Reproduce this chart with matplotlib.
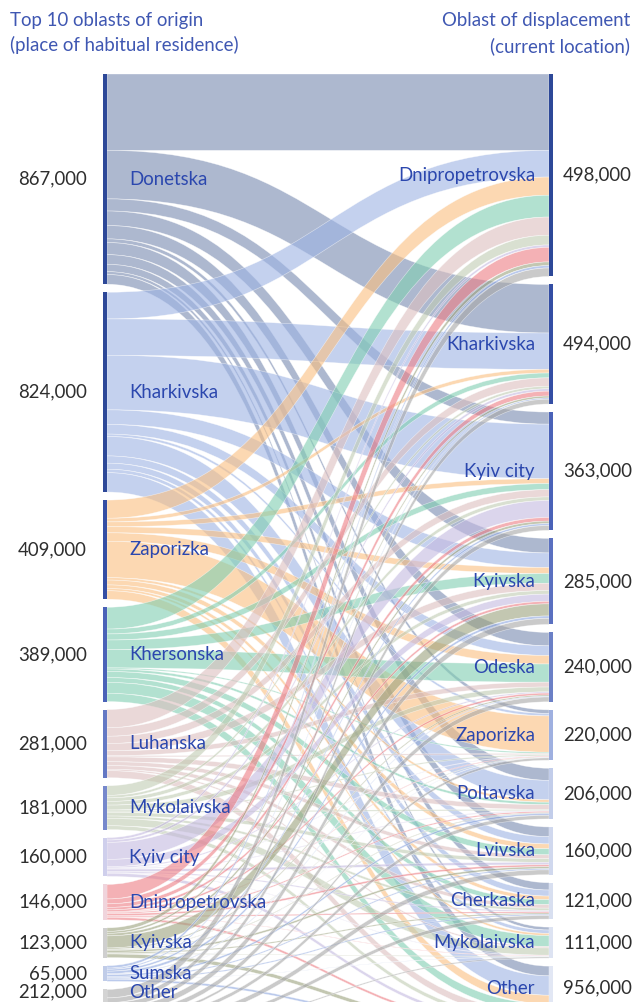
import matplotlib
matplotlib.use("Agg")
import matplotlib.pyplot as plt
from matplotlib.path import Path
from matplotlib.patches import PathPatch, Rectangle

# ---------------- data ----------------
sources = ["Donetska", "Kharkivska", "Zaporizka", "Khersonska", "Luhanska",
           "Mykolaivska", "Kyiv city", "Dnipropetrovska", "Kyivska", "Sumska", "Other"]
source_values = [867, 824, 409, 389, 281, 181, 160, 146, 123, 65, 212]  # thousands
source_labels = ["867,000", "824,000", "409,000", "389,000", "281,000", "181,000",
                 "160,000", "146,000", "123,000", "65,000", "212,000"]

targets = ["Dnipropetrovska", "Kharkivska", "Kyiv city", "Kyivska", "Odeska", "Zaporizka",
           "Poltavska", "Lvivska", "Cherkaska", "Mykolaivska", "Other"]
target_labels = ["498,000", "494,000", "363,000", "285,000", "240,000", "220,000",
                 "206,000", "160,000", "121,000", "111,000", "956,000"]

# estimated flows (thousands): rows = origin, columns = displacement oblast
flow_donetska    = [315, 200, 50, 60, 55, 15, 50, 40, 30, 12, 40]
flow_kharkivska  = [110, 150, 225, 60, 40, 10, 80, 30, 25, 14, 80]
flow_zaporizka   = [75, 15, 20, 25, 35, 150, 10, 20, 15, 9, 35]
flow_khersonska  = [90, 20, 25, 40, 75, 5, 10, 25, 20, 45, 34]
flow_luhanska    = [75, 35, 30, 30, 20, 5, 20, 16, 15, 6, 29]
flow_mykolaivska = [40, 10, 15, 15, 20, 5, 5, 15, 10, 30, 16]
flow_kyivcity    = [10, 10, 70, 30, 5, 2, 3, 10, 5, 2, 13]
flow_dnipro      = [60, 20, 15, 10, 8, 3, 5, 8, 5, 2, 10]
flow_kyivska     = [15, 8, 10, 50, 5, 2, 3, 8, 5, 2, 15]
flow_sumska      = [10, 5, 8, 10, 3, 1, 8, 5, 5, 1, 9]
flow_other       = [35, 20, 20, 25, 20, 10, 15, 20, 15, 5, 27]
flows = [flow_donetska, flow_kharkivska, flow_zaporizka, flow_khersonska, flow_luhanska,
         flow_mykolaivska, flow_kyivcity, flow_dnipro, flow_kyivska, flow_sumska, flow_other]

# ---------------- style ----------------
flow_colors = ["#7789af", "#9db3e4", "#fabf80", "#80ceb1", "#dcbfbf", "#c1ccb3",
               "#c4b9e0", "#ed7e85", "#9ba27e", "#8fa8e0", "#a8a8a8"]
left_bar_colors = ["#2d4898", "#2d4898", "#344ea4", "#4a62b8", "#6478c4", "#7688cc",
                   "#cfcfec", "#f0d4dc", "#cfcfcf", "#c0cce8", "#d4d4d4"]
right_bar_colors = ["#2d4898", "#344ea4", "#4a62b8", "#5a70c0", "#6b80c6", "#9fb0e0",
                    "#c2cdea", "#d0d8ee", "#d8dff0", "#dde3f2", "#e2e7f4"]
node_text = "#2b47ae"
value_text = "#2e2e2e"
FONT = ["Lato", "DejaVu Sans"]
FS = 13.4
FW = "normal"

W, H = 635, 1002
fig = plt.figure(figsize=(W / 100, H / 100), dpi=100)
ax = fig.add_axes([0, 0, 1, 1])
ax.set_xlim(0, W)
ax.set_ylim(H, 0)
ax.axis("off")

top = 74
scale = 0.2425
gap_left = 8
gap_right = 8
xl_bar, xr_bar = 103, 549
bar_w = 4
x0 = xl_bar + bar_w
x1 = xr_bar

n_s, n_t = len(sources), len(targets)
target_totals = [sum(flows[i][j] for i in range(n_s)) for j in range(n_t)]

s_top = []
y = top
for v in source_values:
    s_top.append(y)
    y += v * scale + gap_left
t_top = []
y = top
for v in target_totals:
    t_top.append(y)
    y += v * scale + gap_right

# target stacking by source order
t_off = list(t_top)
tpos = {}
for j in range(n_t):
    for i in range(n_s):
        tpos[(i, j)] = t_off[j]
        t_off[j] += flows[i][j] * scale

s_off = list(s_top)
xm = (x0 + x1) / 2
for i in range(n_s):
    for j in range(n_t):
        h = flows[i][j] * scale
        ys = s_off[i]
        s_off[i] += h
        yt = tpos[(i, j)]
        verts = [(x0, ys), (xm, ys), (xm, yt), (x1, yt),
                 (x1, yt + h),
                 (xm, yt + h), (xm, ys + h), (x0, ys + h),
                 (x0, ys)]
        codes = [Path.MOVETO, Path.CURVE4, Path.CURVE4, Path.CURVE4,
                 Path.LINETO,
                 Path.CURVE4, Path.CURVE4, Path.CURVE4,
                 Path.CLOSEPOLY]
        ax.add_patch(PathPatch(Path(verts, codes), facecolor=flow_colors[i],
                               edgecolor=(1, 1, 1, 0.25), linewidth=0.4,
                               alpha=0.6, zorder=2))

# node bars
for i, v in enumerate(source_values):
    ax.add_patch(Rectangle((xl_bar, s_top[i]), bar_w, v * scale,
                           facecolor=left_bar_colors[i], edgecolor="none", zorder=3))
for j, v in enumerate(target_totals):
    ax.add_patch(Rectangle((xr_bar, t_top[j]), bar_w, v * scale,
                           facecolor=right_bar_colors[j], edgecolor="none", zorder=3))

# labels
for i, name in enumerate(sources):
    yc = min(s_top[i] + source_values[i] * scale / 2, 992)
    ax.text(129, yc, name, ha="left", va="center", fontsize=FS, fontweight=FW,
            color=node_text, family=FONT, zorder=4)
    ax.text(87, yc, source_labels[i], ha="right", va="center", fontsize=FS, fontweight=FW,
            color=value_text, family=FONT, zorder=4)
for j, name in enumerate(targets):
    yc = min(t_top[j] + target_totals[j] * scale / 2, 988)
    ax.text(535, yc, name, ha="right", va="center", fontsize=FS, fontweight=FW,
            color=node_text, family=FONT, zorder=4)
    ax.text(563, yc, target_labels[j], ha="left", va="center", fontsize=FS, fontweight=FW,
            color=value_text, family=FONT, zorder=4)

# headers
title_col = "#3f57b2"
TS = 13.4
ax.text(10, 20, "Top 10 oblasts of origin", ha="left", va="center",
        fontsize=TS, fontweight=FW, color=title_col, family=FONT)
ax.text(10, 45, "(place of habitual residence)", ha="left", va="center",
        fontsize=TS, fontweight=FW, color=title_col, family=FONT)
ax.text(630, 20, "Oblast of displacement", ha="right", va="center",
        fontsize=TS, fontweight=FW, color=title_col, family=FONT)
ax.text(630, 46, "(current location)", ha="right", va="center",
        fontsize=TS, fontweight=FW, color=title_col, family=FONT)

fig.savefig("out.png", dpi=100, facecolor="white")
